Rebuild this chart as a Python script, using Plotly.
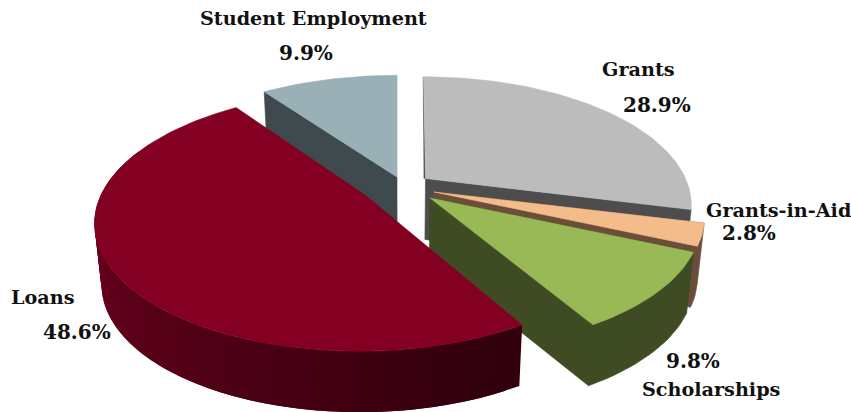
import math
import plotly.graph_objects as go

# --- data ---
categories = ["Grants", "Grants-in-Aid", "Scholarships", "Loans", "Student Employment"]
values = [28.9, 2.8, 9.8, 48.6, 9.9]
value_labels = ["28.9%", "2.8%", "9.8%", "48.6%", "9.9%"]

# --- styles ---
top_colors = ["#BCBCBC", "#F4BB8B", "#98B956", "#840022", "#9AB0B7"]
wall_colors = ["#4D4D4D", "#6A4E3A", "#3F4B22", "#5A0018", "#3F4A4E"]
apex = [(425.5, 178.5), (434, 192), (430, 198), (365, 195), (397, 177)]
radius_x = [260, 265, 265, 264, 265]
radius_y = [122, 122, 122, 125, 122]
shear = [-2, 0, 0, 5, 0]
draw_order = [4, 0, 1, 2, 3]

PERSP = 0.2
DEPTH = 61
VANISH_X = 400
BOTTOM_SCALE = 0.977

label_pos = {
    "Student Employment": ((313, 18), (306, 53)),
    "Grants": ((638, 69), (657, 105)),
    "Grants-in-Aid": ((778, 210), (749, 233)),
    "Scholarships": ((711, 389), (693, 361)),
    "Loans": ((43, 297), (77, 332)),
}


def rim(i, deg):
    t = math.radians(deg)
    u, v = math.sin(t), math.cos(t)
    d = 1 + PERSP * v
    return (apex[i][0] + (radius_x[i] * u + shear[i] * v) / d,
            apex[i][1] - radius_y[i] * v / d)


def low(p):
    return (VANISH_X + BOTTOM_SCALE * (p[0] - VANISH_X), p[1] + DEPTH)


def arc(i, a0, a1, step=1.5):
    n = max(1, int(abs(a1 - a0) / step))
    return [rim(i, a0 + (a1 - a0) * k / n) for k in range(n + 1)]


fig = go.Figure()


def poly(points, color, lw=0.6):
    xs = [p[0] for p in points] + [points[0][0]]
    ys = [p[1] for p in points] + [points[0][1]]
    fig.add_trace(go.Scatter(x=xs, y=ys, mode="lines", fill="toself", fillcolor=color,
                             line=dict(color=color, width=lw), hoverinfo="skip",
                             showlegend=False))


def mix(c0, c1, f):
    return "rgb(%d,%d,%d)" % tuple(round(a + (b - a) * f) for a, b in zip(c0, c1))


# slice angles from the values
angles = []
acc = 0.0
for v in values:
    angles.append((acc * 3.6, (acc + v) * 3.6))
    acc += v

for i in draw_order:
    a0, a1 = angles[i]
    cat = categories[i]
    ap = apex[i]
    ap_low = low(ap)
    if cat == "Loans":
        # outer rim with a shaded run, overlapping strips drawn from the far end
        vis0, vis1 = a0, 292
        n = int((vis1 - vis0) / 3)
        for k in range(n - 1, -1, -1):
            b0 = vis0 + (vis1 - vis0) * k / n
            seg = arc(i, b0, vis1 if k == n - 1 else b0 + (vis1 - vis0) * 2 / n, 1)
            f = min(1.0, (k + 0.5) / n * 1.25)
            poly(seg + [low(p) for p in reversed(seg)], mix((0x30, 0, 0x0C), (0x70, 0, 0x20), f), 0)
    elif a0 >= 90 and a1 <= 270:
        # rim and cut face as one outline, so no seam shows between them
        s = rim(i, a0)
        poly([ap, s] + [low(p) for p in arc(i, a0, a1)] + [ap_low], wall_colors[i])
    else:
        # the cut face that looks towards the viewer
        e = rim(i, a0 if cat == "Student Employment" else a1)
        poly([ap, e, low(e), ap_low], wall_colors[i])
        if cat == "Grants":
            # thin sliver of the far cut face along the left edge
            poly([ap, rim(i, a0), (rim(i, a0)[0] - 0.6, rim(i, a0)[1]), (ap[0] - 1.6, ap[1])], wall_colors[i], 0.4)
    # top face
    poly([ap] + arc(i, a0, a1), top_colors[i])

FONT = dict(family="DejaVu Serif", size=19.2, color="#111111", weight="bold")
for name, val in zip(categories, value_labels):
    (nx, ny), (vx, vy) = label_pos[name]
    fig.add_annotation(x=nx, y=ny, text=name, showarrow=False, font=FONT, xanchor="center", yanchor="middle")
    fig.add_annotation(x=vx, y=vy, text=val, showarrow=False, font=dict(FONT, size=20), xanchor="center", yanchor="middle")

fig.update_xaxes(range=[0, 851], visible=False, fixedrange=True)
fig.update_yaxes(range=[412, 0], visible=False, fixedrange=True)
fig.update_layout(width=851, height=412, margin=dict(l=0, r=0, t=0, b=0),
                  paper_bgcolor="white", plot_bgcolor="white", showlegend=False)
fig.write_html("out.html", config={"displayModeBar": False},
               post_script="document.body.style.margin='0';document.body.style.overflow='hidden';")
